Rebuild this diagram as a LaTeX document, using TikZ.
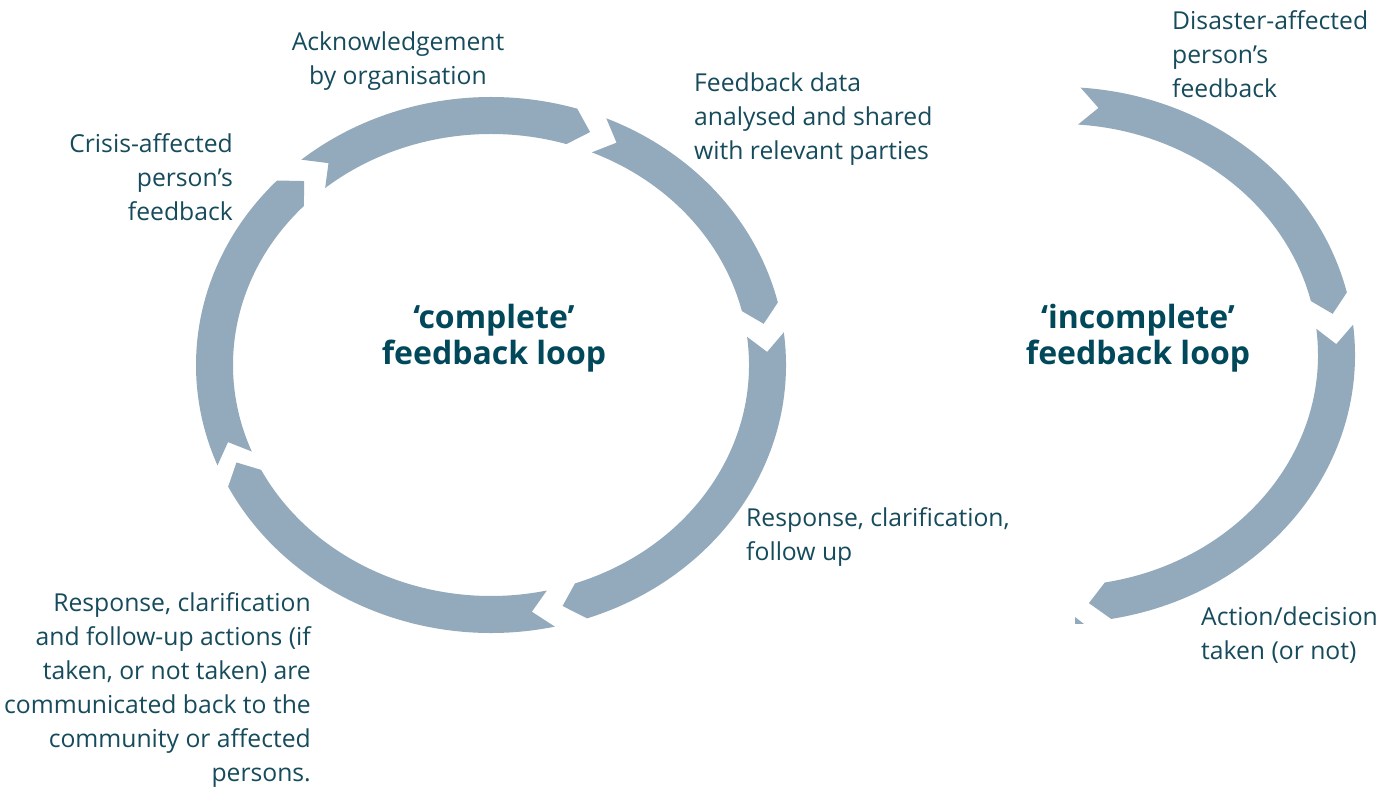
\documentclass[tikz,border=0pt]{standalone}
\usepackage{fontspec}
\setmainfont{Open Sans}
\definecolor{loopgrey}{HTML}{93A9BC}
\definecolor{labelteal}{HTML}{164B5C}
\definecolor{titleteal}{HTML}{00485A}
\tikzset{
  segfill/.style={fill=loopgrey},
  steplabel/.style={text=labelteal, font=\fontsize{24.7}{34}\selectfont, inner sep=0pt},
  looptitle/.style={text=titleteal, font=\fontsize{32}{35.5}\selectfont\bfseries, align=center, inner sep=0pt}
}
% one chevron piece of a loop: centre, tail angle, head angle
\newcommand{\loopseg}[3]{%
  \fill[segfill, shift={(#1)}] (#2:295 and 268)
    arc[start angle=#2, end angle=#3, x radius=295, y radius=268]
    -- (#3-4:276.5 and 249.5) -- (#3:258 and 231)
    arc[start angle=#3, end angle=#2, x radius=258, y radius=231]
    -- (#2-4:276.5 and 249.5) -- cycle;}
\begin{document}
\begin{tikzpicture}[x=1pt, y=1pt]
    \useasboundingbox (0,0) rectangle (1392,792);
    \coordinate (cfull) at (491,427);
    \coordinate (chalf) at (1060,437);

    % complete loop
    \loopseg{cfull}{130}{73}
    \loopseg{cfull}{67}{13.5}
    \loopseg{cfull}{7}{-71}
    \loopseg{cfull}{-77.5}{-153}
    \loopseg{cfull}{202}{136.5}

    % incomplete loop
    \loopseg{chalf}{86}{13.5}
    \loopseg{chalf}{6.5}{-80}
    \fill[segfill] (1075,175) -- (1075,168) -- (1084,168) -- cycle;

    \node[looptitle] (complete) at (494,454) {‘complete’\\feedback loop};
    \node[looptitle] (incomplete) at (1138,454) {‘incomplete’\\feedback loop};

    \node[steplabel, align=center] (ack) at (398,731) {Acknowledgement\\by organisation};
    \node[steplabel, align=right, anchor=east] (crisis) at (233,615) {Crisis-affected\\person’s\\feedback};
    \node[steplabel, align=left, anchor=west] (analysed) at (694,673) {Feedback data\\analysed and shared\\with relevant parties};
    \node[steplabel, align=left, anchor=west] (respond) at (746,255) {Response, clarification,\\follow up};
    \node[steplabel, align=right, anchor=east] (commback) at (311,102) {Response, clarification\\and follow-up actions (if\\taken, or not taken) are\\communicated back to the\\community or affected\\persons.};
    \node[steplabel, align=left, anchor=west] (disaster) at (1172,738) {Disaster-affected\\person’s\\feedback};
    \node[steplabel, align=left, anchor=west] (action) at (1201,157) {Action/decision\\taken (or not)};
\end{tikzpicture}
\end{document}
